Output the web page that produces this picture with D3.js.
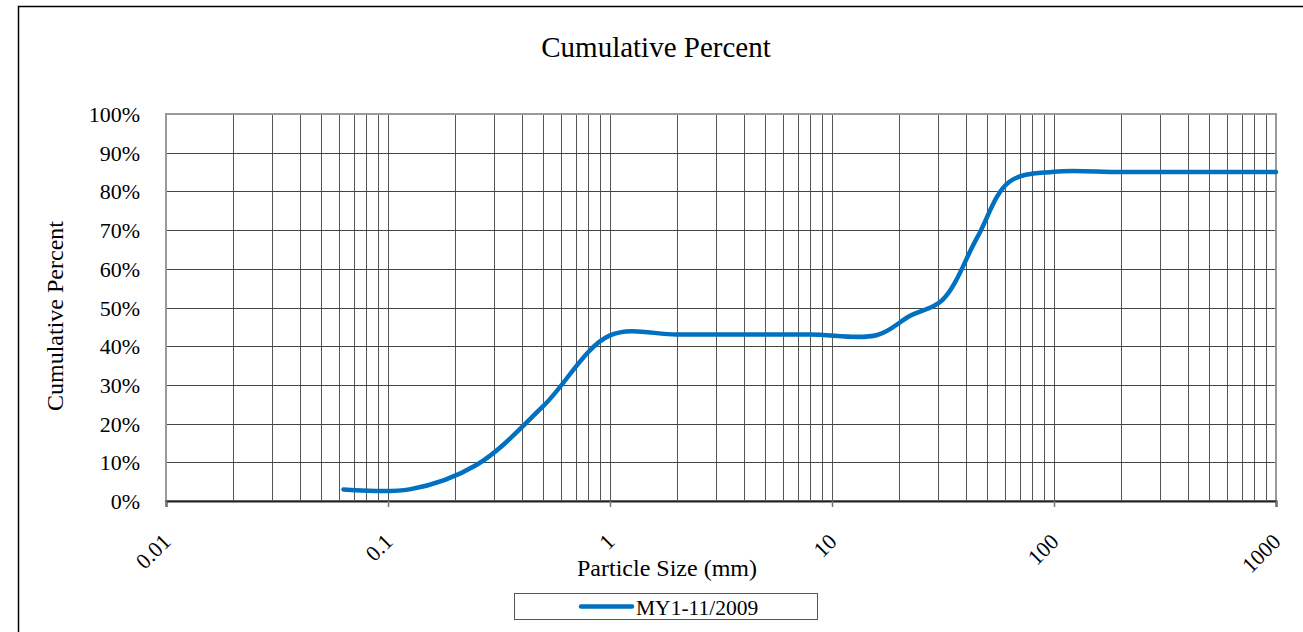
<!DOCTYPE html>
<html>
<head>
<meta charset="utf-8">
<script src="https://cdn.jsdelivr.net/npm/d3@7"></script>
<style>
	body { margin: 0; background: #ffffff; }
	svg text { font-family: "Liberation Serif", "Times New Roman", serif; fill: #000; }
</style>
</head>
<body>
<script>
// sieve sizes (mm) and cumulative percent
var sizes = [0.063, 0.125, 0.25, 0.5, 1, 2, 4, 8, 16, 22.4, 31.5, 45, 63, 100, 200, 500, 1000];
var percents = [3.0, 3.0, 9.3, 24.5, 42.8, 43, 43, 43, 42.9, 47.8, 52, 68, 82.5, 85.1, 85, 85, 85];
var xTicks = [0.01, 0.1, 1, 10, 100, 1000];
var xTickLabels = ["0.01", "0.1", "1", "10", "100", "1000"];
var yTicks = [0, 0.1, 0.2, 0.3, 0.4, 0.5, 0.6, 0.7, 0.8, 0.9, 1];
var seriesName = "MY1-11/2009";

var w = 1303, h = 632;
var plot = {left: 166, right: 1276, top: 114, bottom: 501};
var serif = "'Liberation Serif', 'Times New Roman', serif";

var svg = d3.select("body").append("svg")
	.attr("width", w)
	.attr("height", h);

// outer chart border (only top and left are inside the window)
svg.append("rect")
	.attr("x", 18.5).attr("y", 6.5)
	.attr("width", 1320).attr("height", 700)
	.style("fill", "none").style("stroke", "#000").style("stroke-width", 1.5);

var x = d3.scaleLog().domain([0.01, 1000]).range([plot.left, plot.right]);
var y = d3.scaleLinear().domain([0, 1]).range([plot.bottom, plot.top]);

// minor + major vertical grid lines
var vLines = [];
xTicks.slice(0, -1).forEach(function(d){
	for (var k = 2; k <= 9; k++) vLines.push(d * k);
	vLines.push(d * 10);
});
svg.append("g").attr("class", "vgrid")
	.selectAll("line").data(vLines).enter().append("line")
	.attr("x1", function(d){ return Math.round(x(d)) + 0.5; })
	.attr("x2", function(d){ return Math.round(x(d)) + 0.5; })
	.attr("y1", plot.top).attr("y2", plot.bottom)
	.style("stroke", function(d){ return d >= 999 ? "none" : "#555"; })
	.style("stroke-width", 1);

// horizontal grid lines
svg.append("g").attr("class", "hgrid")
	.selectAll("line").data(yTicks.filter(function(d){ return d > 0 && d < 1; })).enter().append("line")
	.attr("x1", plot.left).attr("x2", plot.right)
	.attr("y1", function(d){ return Math.round(y(d)) + 0.5; })
	.attr("y2", function(d){ return Math.round(y(d)) + 0.5; })
	.style("stroke", "#444").style("stroke-width", 1);

// plot border
svg.append("rect")
	.attr("x", plot.left).attr("y", plot.top)
	.attr("width", plot.right - plot.left).attr("height", plot.bottom - plot.top)
	.style("fill", "none").style("stroke", "#999").style("stroke-width", 2);

// x axis line and decade ticks
var xAxis = d3.axisBottom(x)
	.tickValues(xTicks)
	.tickSize(6)
	.tickFormat("");
var xg = svg.append("g")
	.attr("class", "xaxis")
	.attr("transform", "translate(0," + plot.bottom + ")")
	.call(xAxis);
xg.select(".domain").style("stroke", "#222").style("stroke-width", 2);
xg.selectAll(".tick line").style("stroke", "#777").style("stroke-width", 1.5);

// rotated x tick labels
svg.append("g").attr("class", "xlabels")
	.selectAll("text").data(xTicks).enter().append("text")
	.attr("transform", function(d){ return "translate(" + (x(d) + 6) + ",543) rotate(-45)"; })
	.attr("text-anchor", "end")
	.style("font-family", serif)
	.style("font-size", "22px")
	.text(function(d, i){ return xTickLabels[i]; });

// y tick labels
var fmt = d3.format(".0%");
svg.append("g").attr("class", "ylabels")
	.selectAll("text").data(yTicks).enter().append("text")
	.attr("x", 140)
	.attr("y", function(d){ return y(d) + 8; })
	.attr("text-anchor", "end")
	.style("font-family", serif)
	.style("font-size", "22px")
	.text(function(d){ return fmt(d); });

// the series line
var pts = sizes.map(function(s, i){ return [s, percents[i] / 100]; });
var line = d3.line()
	.x(function(d){ return x(d[0]); })
	.y(function(d){ return y(d[1]); })
	.curve(d3.curveCatmullRom.alpha(0.5));
svg.append("path")
	.datum(pts)
	.attr("d", line)
	.style("fill", "none")
	.style("stroke", "#0070C0")
	.style("stroke-width", 4.5)
	.style("stroke-linecap", "round")
	.attr("class", "series");

// titles
svg.append("text")
	.attr("x", 656).attr("y", 57)
	.attr("text-anchor", "middle")
	.style("font-family", serif)
	.style("font-size", "29px")
	.text("Cumulative Percent");

svg.append("text")
	.attr("x", 667).attr("y", 576)
	.attr("text-anchor", "middle")
	.style("font-family", serif)
	.style("font-size", "24px")
	.text("Particle Size (mm)");

svg.append("text")
	.attr("transform", "translate(63,316) rotate(-90)")
	.attr("text-anchor", "middle")
	.style("font-family", serif)
	.style("font-size", "24px")
	.text("Cumulative Percent");

// legend
var legend = svg.append("g").attr("class", "legend");
legend.append("rect")
	.attr("x", 514.5).attr("y", 593.5)
	.attr("width", 303).attr("height", 26)
	.style("fill", "#fff").style("stroke", "#555").style("stroke-width", 1);
legend.append("line")
	.attr("x1", 581).attr("x2", 632)
	.attr("y1", 606.5).attr("y2", 606.5)
	.style("stroke", "#0070C0").style("stroke-width", 4.5)
	.style("stroke-linecap", "round");
legend.append("text")
	.attr("x", 636).attr("y", 615)
	.style("font-family", serif)
	.style("font-size", "21.5px")
	.text(seriesName);
</script>
</body>
</html>
